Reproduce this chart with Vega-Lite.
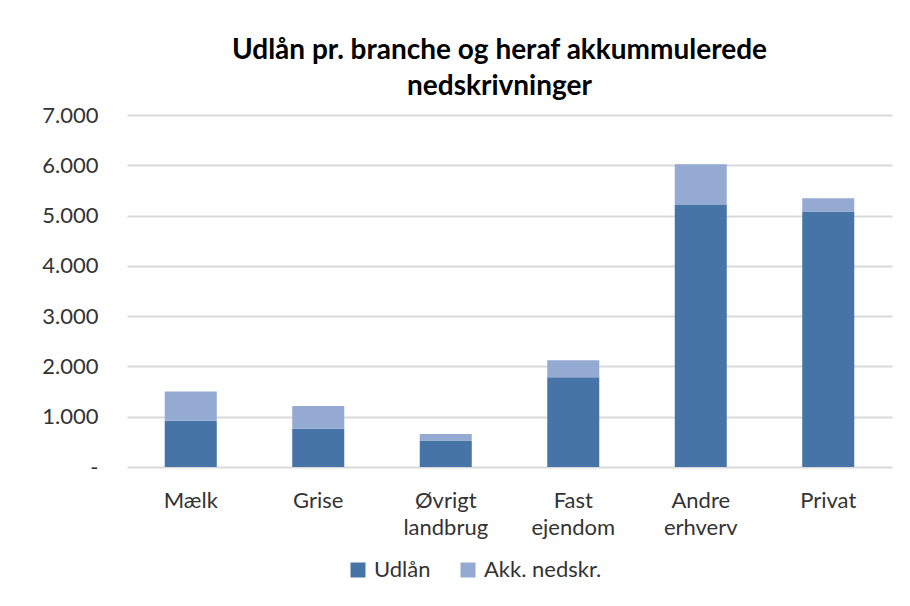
{
  "$schema": "https://vega.github.io/schema/vega-lite/v6.json",
  "autosize": "none",
  "width": 765,
  "height": 352,
  "padding": {"left": 127, "top": 115, "right": 18, "bottom": 139},
  "background": "white",
  "title": {
    "text": ["Udlån pr. branche og heraf akkummulerede", "nedskrivninger"],
    "font": "Lato",
    "fontSize": 28,
    "fontWeight": "bold",
    "color": "#000000",
    "lineHeight": 36,
    "anchor": "middle",
    "dx": -10,
    "offset": 3
  },
  "data": {
    "values": [
      {"branche": "Mælk", "serie": "Udlån", "beloeb": 921},
      {"branche": "Mælk", "serie": "Akk. nedskr.", "beloeb": 580},
      {"branche": "Grise", "serie": "Udlån", "beloeb": 763},
      {"branche": "Grise", "serie": "Akk. nedskr.", "beloeb": 448},
      {"branche": "Øvrigt landbrug", "serie": "Udlån", "beloeb": 526},
      {"branche": "Øvrigt landbrug", "serie": "Akk. nedskr.", "beloeb": 132},
      {"branche": "Fast ejendom", "serie": "Udlån", "beloeb": 1786},
      {"branche": "Fast ejendom", "serie": "Akk. nedskr.", "beloeb": 337},
      {"branche": "Andre erhverv", "serie": "Udlån", "beloeb": 5212},
      {"branche": "Andre erhverv", "serie": "Akk. nedskr.", "beloeb": 808},
      {"branche": "Privat", "serie": "Udlån", "beloeb": 5079},
      {"branche": "Privat", "serie": "Akk. nedskr.", "beloeb": 264}
    ]
  },
  "mark": {"type": "bar"},
  "encoding": {
    "x": {
      "field": "branche",
      "type": "nominal",
      "sort": null,
      "scale": {"paddingInner": 0.592, "paddingOuter": 0.296},
      "axis": {
        "title": null,
        "labelAngle": 0,
        "labelExpr": "split(datum.label, ' ')",
        "labelFont": "Lato",
        "labelFontSize": 22,
        "labelColor": "#333333",
        "labelLineHeight": 27,
        "labelPadding": 23,
        "ticks": false,
        "domain": false,
        "grid": false
      }
    },
    "y": {
      "field": "beloeb",
      "type": "quantitative",
      "stack": "zero",
      "scale": {"domain": [0, 7000], "nice": false},
      "axis": {
        "title": null,
        "values": [0, 1000, 2000, 3000, 4000, 5000, 6000, 7000],
        "labelExpr": "datum.value == 0 ? '-\u00a0\u00a0\u00a0' : replace(format(datum.value, ','), ',', '.')",
        "labelFont": "Lato",
        "labelFontSize": 22,
        "labelColor": "#333333",
        "labelPadding": 29,
        "ticks": false,
        "domain": false,
        "grid": true,
        "gridColor": "#d9d9d9",
        "gridWidth": 2
      }
    },
    "color": {
      "field": "serie",
      "type": "nominal",
      "scale": {"domain": ["Udlån", "Akk. nedskr."], "range": ["#4674A6", "#95AAD2"]},
      "legend": {
        "title": null,
        "orient": "none",
        "direction": "horizontal",
        "legendX": 220,
        "legendY": 444,
        "symbolType": "square",
        "symbolSize": 225,
        "symbolStrokeWidth": 0,
        "labelFont": "Lato",
        "labelFontSize": 22,
        "labelColor": "#333333",
        "labelOffset": 5,
        "columnPadding": 26
      }
    },
    "order": {"field": "serie", "sort": "descending"}
  },
  "config": {
    "view": {"stroke": null}
  }
}
